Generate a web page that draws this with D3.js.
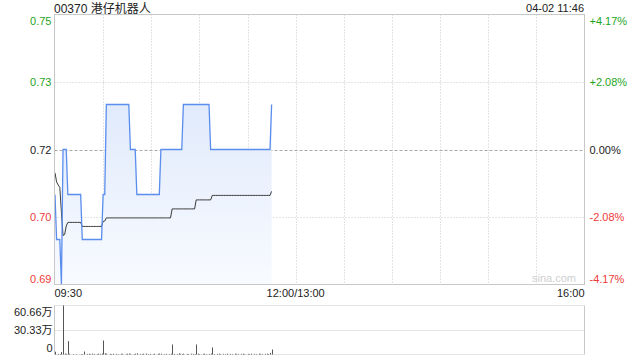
<!DOCTYPE html>
<html><head><meta charset="utf-8">
<script src="https://cdn.jsdelivr.net/npm/d3@7"></script>
<style>
html,body{margin:0;padding:0;background:#fff;}
svg text{font-family:"Liberation Sans",Arial,"Noto Sans CJK SC",sans-serif;}
</style></head>
<body><svg id="c" width="640" height="360"></svg>
<script>
const title = "00370 港仔机器人";
const stamp = "04-02 11:46";
const prevClose = 0.72;
const priceTicks = [0.75, 0.735, 0.72, 0.705, 0.69];
const priceLabels = ["0.75", "0.73", "0.72", "0.70", "0.69"];
const pctLabels = ["+4.17%", "+2.08%", "0.00%", "-2.08%", "-4.17%"];
const timeLabels = ["09:30", "12:00/13:00", "16:00"];
const timeTickMinutes = [0, 150, 330];
const volTicks = [606600, 303300, 0];
const volLabels = ["60.66万", "30.33万", "0"];

// per-minute data from 09:30 (index 0) to 11:45 (index 135)
const price = [
0.71,0.70,0.70,0.70,0.69,0.72,0.72,0.72,
0.71,0.71,0.71,0.71,0.71,0.71,0.71,0.71,0.71,
0.70,0.70,0.70,0.70,0.70,0.70,0.70,0.70,0.70,0.70,0.70,0.70,0.70,
0.71,0.71,
0.73,0.73,0.73,0.73,0.73,0.73,0.73,0.73,0.73,0.73,0.73,0.73,0.73,0.73,0.73,
0.72,0.72,0.72,0.72,
0.71,0.71,0.71,0.71,0.71,0.71,0.71,0.71,0.71,0.71,0.71,0.71,0.71,0.71,0.71,
0.72,0.72,0.72,0.72,0.72,0.72,0.72,0.72,0.72,0.72,0.72,0.72,0.72,0.72,
0.73,0.73,0.73,0.73,0.73,0.73,0.73,0.73,0.73,0.73,0.73,0.73,0.73,0.73,0.73,0.73,0.73,
0.72,0.72,0.72,0.72,0.72,0.72,0.72,0.72,0.72,0.72,0.72,0.72,0.72,0.72,0.72,0.72,0.72,0.72,0.72,
0.72,0.72,0.72,0.72,0.72,0.72,0.72,0.72,0.72,0.72,0.72,0.72,0.72,0.72,0.72,0.72,0.72,0.72,0.72,
0.73
];
const avg = [
0.7148,0.7128,0.7121,0.7116,0.7060,0.7009,0.7011,0.7030,
0.7038,0.7038,0.7038,0.7038,0.7038,0.7038,0.7038,0.7038,0.7038,
0.7029,0.7029,0.7029,0.7029,0.7029,0.7029,0.7029,0.7029,0.7029,0.7029,0.7029,0.7029,0.7029,
0.7040,0.7041,
0.7048,0.7048,0.7048,0.7048,0.7048,0.7048,0.7048,0.7048,0.7048,0.7048,
0.7048,0.7048,0.7048,0.7048,0.7048,0.7048,0.7048,0.7048,0.7048,0.7048,
0.7048,0.7048,0.7048,0.7048,0.7048,0.7048,0.7048,0.7048,0.7048,0.7048,
0.7048,0.7048,0.7048,0.7048,0.7048,0.7048,0.7048,0.7048,0.7048,0.7048,0.7048,
0.7068,0.7068,0.7068,0.7068,0.7068,0.7068,0.7068,0.7068,0.7068,0.7068,0.7068,0.7068,0.7068,0.7068,0.7068,
0.7088,0.7088,0.7088,0.7088,0.7088,0.7088,0.7088,0.7088,0.7088,0.7088,
0.7098,0.7098,0.7098,0.7098,0.7098,0.7098,0.7098,0.7098,0.7098,0.7098,
0.7098,0.7098,0.7098,0.7098,0.7098,0.7098,0.7098,0.7098,0.7098,0.7098,
0.7098,0.7098,0.7098,0.7098,0.7098,0.7098,0.7098,0.7098,0.7098,0.7098,
0.7098,0.7098,0.7098,0.7098,0.7098,0.7098,0.7098,
0.7107
];
const volume = [
35000,0,8000,6000,30000,606600,12000,8000,165000,10000,
0,6000,0,5000,0,0,6000,5000,37000,0,
8000,10000,6000,12000,8000,0,6000,10000,8000,12000,
173000,15000,10000,0,8000,6000,10000,0,8000,6000,
0,10000,8000,0,6000,10000,12000,8000,0,6000,
10000,15000,0,8000,6000,10000,0,12000,6000,8000,
0,6000,10000,0,8000,12000,10000,0,6000,8000,
0,6000,10000,124000,8000,0,6000,15000,8000,6000,
10000,0,8000,6000,0,10000,8000,6000,124000,10000,
6000,0,8000,10000,6000,0,8000,12000,87000,6000,
0,8000,10000,6000,0,8000,6000,10000,0,8000,
6000,0,10000,8000,6000,0,8000,10000,6000,0,
8000,6000,10000,0,8000,6000,0,10000,8000,6000,
0,8000,10000,6000,20000,62000
];

const svg = d3.select("#c");
const L = 54.5, R = 584.5, T = 14.5, B = 284.5;
const VT = 305.5, VB = 354.5;
const green = "#1ea51e", red = "#f03a3a", dark = "#222";
const font = 11;

const x = d3.scaleLinear().domain([0, 330]).range([55, 584.5]);
const y = d3.scaleLinear().domain([0.69, 0.75]).range([B, T]);
const yv = d3.scaleLinear().domain([0, 606600]).range([VB, VT]);

// gradient
const defs = svg.append("defs");
const g = defs.append("linearGradient").attr("id","fillg")
  .attr("gradientUnits","userSpaceOnUse").attr("x1",0).attr("y1",T).attr("x2",0).attr("y2",B);
g.append("stop").attr("offset","0%").attr("stop-color","#d5e2fa");
g.append("stop").attr("offset","100%").attr("stop-color","#f8fbff");

// vertical grid lines
const vgrid = d3.range(30, 330, 30);
svg.append("g").selectAll("line").data(vgrid).join("line")
  .attr("x1", d => Math.round(x(d)) + 0.5).attr("x2", d => Math.round(x(d)) + 0.5)
  .attr("y1", T).attr("y2", B)
  .attr("stroke", "#c8c8c8").attr("stroke-dasharray", "1,2");

// horizontal grid lines
svg.append("g").selectAll("line").data([0.735, 0.705]).join("line")
  .attr("x1", L).attr("x2", R)
  .attr("y1", d => Math.round(y(d)) + 0.5).attr("y2", d => Math.round(y(d)) + 0.5)
  .attr("stroke", "#c8c8c8").attr("stroke-dasharray", "1,2");
svg.append("line").attr("x1", L).attr("x2", R)
  .attr("y1", Math.round(y(prevClose)) + 0.5).attr("y2", Math.round(y(prevClose)) + 0.5)
  .attr("stroke", "#a8a8a8").attr("stroke-dasharray", "3,2");

// area + lines
const idx = d3.range(price.length);
const area = d3.area().x(i => x(i)).y0(B).y1(i => y(price[i]));
svg.append("path").datum(idx).attr("d", area).attr("fill", "url(#fillg)");
svg.append("path").datum(idx)
  .attr("d", d3.line().x(i => x(i)).y(i => y(avg[i])))
  .attr("fill", "none").attr("stroke", "#3a3a3a").attr("stroke-width", 1);
svg.append("path").datum(idx)
  .attr("d", d3.line().x(i => x(i)).y(i => y(price[i])))
  .attr("fill", "none").attr("stroke", "#5a8ded").attr("stroke-width", 1.3);

// main border
svg.append("rect").attr("x", L).attr("y", T).attr("width", R - L).attr("height", B - T)
  .attr("fill", "none").attr("stroke", "#c8c8c8");

// watermark
svg.append("text").attr("x", 576).attr("y", 282).attr("text-anchor","end")
  .attr("font-size", font).attr("fill", "#d0d0d0").text("sina.com");

// price axis labels
const colorFor = (d) => d > prevClose + 1e-9 ? green : (d < prevClose - 1e-9 ? red : dark);
const offFor = (i, n) => i === 0 ? 6 : (i === n - 1 ? -6 : 0);
const leftAxis = d3.axisLeft(y).tickValues(priceTicks).tickSize(0).tickPadding(3)
  .tickFormat((d, i) => priceLabels[i]);
const la = svg.append("g").attr("transform", `translate(${L},0)`).call(leftAxis);
la.select(".domain").remove();
la.selectAll("text").attr("font-size", font).attr("font-family", null)
  .attr("fill", d => colorFor(d))
  .attr("transform", (d, i) => `translate(0,${offFor(i, priceTicks.length)})`);

const rightAxis = d3.axisRight(y).tickValues(priceTicks).tickSize(0).tickPadding(5)
  .tickFormat((d, i) => pctLabels[i]);
const ra = svg.append("g").attr("transform", `translate(${R},0)`).call(rightAxis);
ra.select(".domain").remove();
ra.selectAll("text").attr("font-size", font).attr("font-family", null)
  .attr("fill", d => colorFor(d))
  .attr("transform", (d, i) => `translate(0,${offFor(i, priceTicks.length)})`);

// time labels
const anchors = ["start", "middle", "end"];
svg.append("g").selectAll("text").data(timeTickMinutes).join("text")
  .attr("x", (d, i) => i === 0 ? L : x(d)).attr("y", 297)
  .attr("text-anchor", (d, i) => anchors[i])
  .attr("font-size", font).attr("fill", dark)
  .text((d, i) => timeLabels[i]);

// title and stamp
svg.append("text").attr("x", 54).attr("y", 13).attr("font-size", 12).attr("fill", dark).text(title);
svg.append("text").attr("x", 584).attr("y", 11.5).attr("text-anchor","end")
  .attr("font-size", font).attr("fill", dark).text(stamp);

// volume panel
svg.append("g").selectAll("line").data(volTicks).join("line")
  .attr("x1", L).attr("x2", R)
  .attr("y1", d => Math.round(yv(d) - 0.5) + 0.5).attr("y2", d => Math.round(yv(d) - 0.5) + 0.5)
  .attr("stroke", "#c8c8c8").attr("stroke-dasharray", "1,1");
svg.append("line").attr("x1", L).attr("x2", L).attr("y1", VT).attr("y2", VB).attr("stroke", "#c8c8c8");
svg.append("line").attr("x1", R).attr("x2", R).attr("y1", VT).attr("y2", VB).attr("stroke", "#c8c8c8");

svg.append("g").selectAll("rect").data(idx.filter(i => volume[i] > 0)).join("rect")
  .attr("x", i => Math.round(x(i)))
  .attr("width", 1)
  .attr("y", i => yv(volume[i]))
  .attr("height", i => VB - yv(volume[i]))
  .attr("fill", "#555");

const volAxis = d3.axisLeft(yv).tickValues(volTicks).tickSize(0).tickPadding(2)
  .tickFormat((d, i) => volLabels[i]);
const va = svg.append("g").attr("transform", `translate(${L},0)`).call(volAxis);
va.select(".domain").remove();
va.selectAll("text").attr("font-size", font).attr("font-family", null).attr("fill", dark)
  .attr("transform", (d, i) => `translate(0,${i === 0 ? 6.5 : (i === volTicks.length - 1 ? -6.5 : 0)})`);
</script>
</body></html>
